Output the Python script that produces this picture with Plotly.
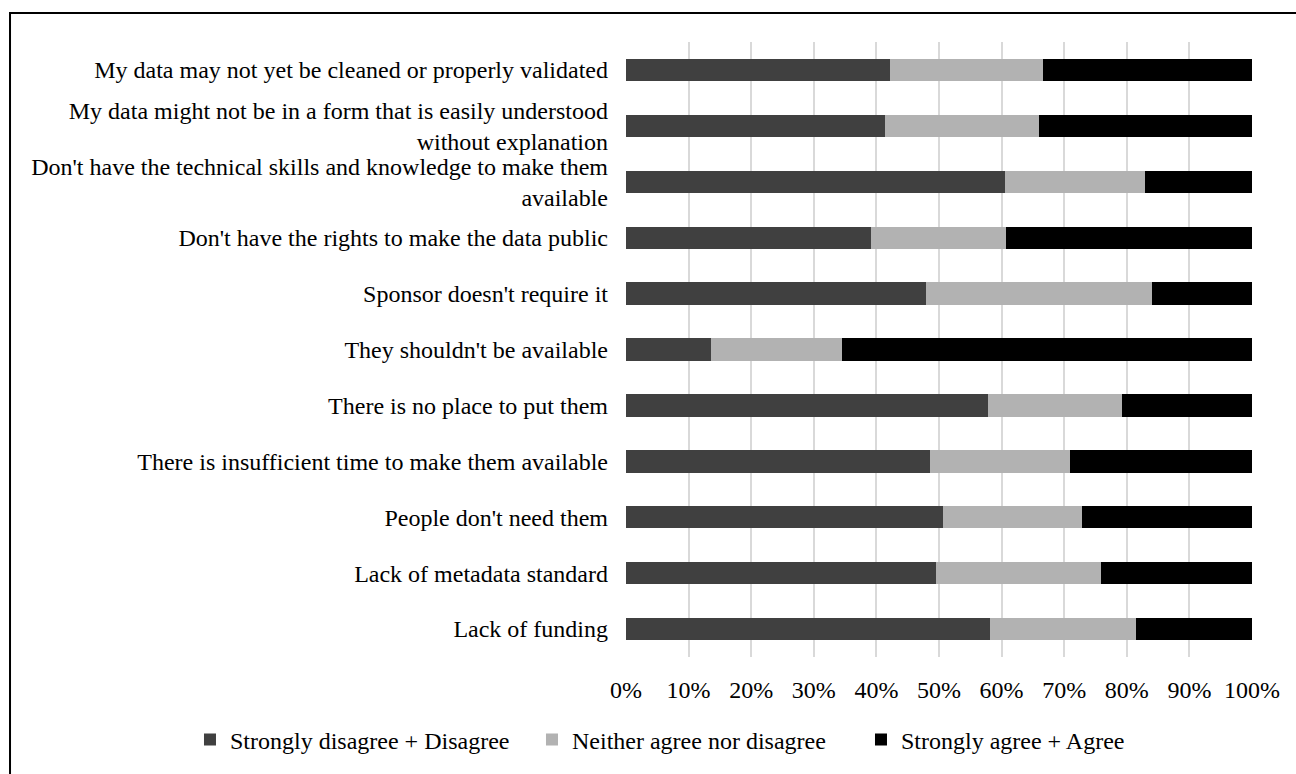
import plotly.graph_objects as go

# Survey statements, listed top to bottom
statements = [
    "My data may not yet be cleaned or properly validated",
    "My data might not be in a form that is easily understood<br>without explanation",
    "Don't have the technical skills and knowledge to make them<br>available",
    "Don't have the rights to make the data public",
    "Sponsor doesn't require it",
    "They shouldn't be available",
    "There is no place to put them",
    "There is insufficient time to make them available",
    "People don't need them",
    "Lack of metadata standard",
    "Lack of funding",
]

# Share of responses (%) per statement
disagree = [42.1, 41.3, 60.6, 39.1, 48.0, 13.6, 57.9, 48.5, 50.7, 49.5, 58.2]
neutral = [24.5, 24.7, 22.3, 21.6, 36.0, 20.9, 21.4, 22.4, 22.1, 26.4, 23.2]
agree = [33.4, 34.0, 17.1, 39.3, 16.0, 65.5, 20.7, 29.1, 27.2, 24.1, 18.6]

series_names = [
    "Strongly disagree + Disagree",
    "Neither agree nor disagree",
    "Strongly agree + Agree",
]
series_colors = ["#404040", "#b2b2b2", "#000000"]
legend_widths = [297, 284, None]

x_ticks = list(range(0, 101, 10))

FONT = "Liberation Serif, Times New Roman, serif"

fig = go.Figure()
for name, vals, color, lw in zip(series_names, [disagree, neutral, agree],
                                 series_colors, legend_widths):
    fig.add_trace(go.Bar(
        y=statements,
        x=vals,
        name=name,
        orientation="h",
        width=0.4,
        marker=dict(color=color, line=dict(width=0)),
        legendwidth=lw,
        hoverinfo="x+name",
    ))

fig.update_layout(
    barmode="stack",
    width=1296,
    height=774,
    margin=dict(l=626, r=44, t=41.5, b=109, pad=0),
    paper_bgcolor="white",
    plot_bgcolor="white",
    font=dict(family=FONT, size=24, color="#000000"),
    showlegend=True,
    legend=dict(
        orientation="h",
        x=-0.6965,
        xanchor="left",
        y=-0.1347,
        yanchor="middle",
        font=dict(family=FONT, size=24, color="#000000"),
        bgcolor="rgba(0,0,0,0)",
        traceorder="normal",
    ),
    xaxis=dict(
        range=[0, 100],
        tickvals=x_ticks,
        ticktext=[f"{v}%" for v in x_ticks],
        showgrid=True,
        gridcolor="#d9d9d9",
        gridwidth=2,
        zeroline=False,
        showline=False,
        ticks="",
        ticklabelstandoff=16,
        tickfont=dict(family=FONT, size=24, color="#000000"),
    ),
    yaxis=dict(
        autorange="reversed",
        showgrid=False,
        zeroline=False,
        showline=False,
        ticks="",
        ticklabelstandoff=17,
        tickfont=dict(family=FONT, size=24, color="#000000"),
    ),
    shapes=[
        dict(
            type="rect",
            xref="paper", yref="paper",
            x0=-0.984, x1=1.3,
            y0=-0.3, y1=1.047,
            line=dict(color="#000000", width=2),
            fillcolor="rgba(0,0,0,0)",
            layer="below",
        )
    ],
)

fig.write_html("out.html")
